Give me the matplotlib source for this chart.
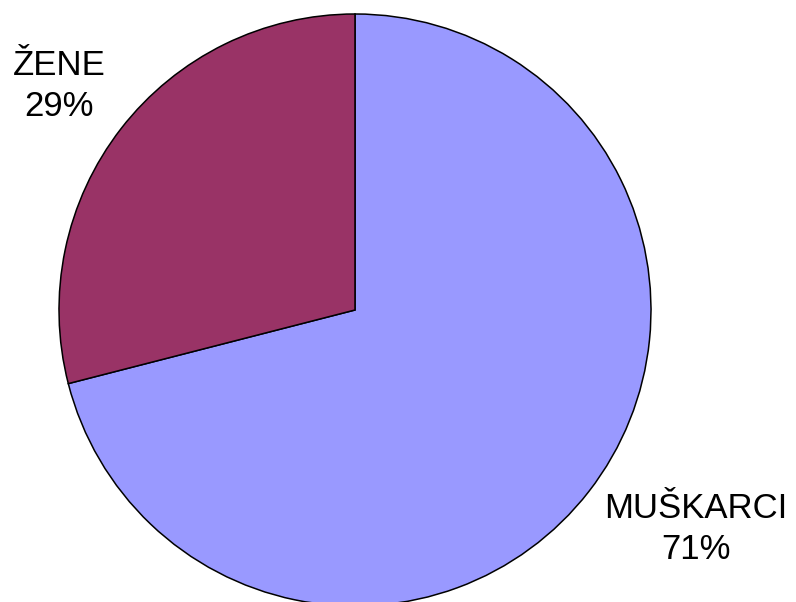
import matplotlib.pyplot as plt

labels = ['MUŠKARCI', 'ŽENE']
shares = [71, 29]
colors = ['#9999FF', '#993366']

plt.rcParams['font.family'] = ['Liberation Sans', 'DejaVu Sans']

fig = plt.figure(figsize=(7.96, 6.02), dpi=100)
ax = fig.add_axes([0, 0, 1, 1])

# figure pixel units, y up
ax.pie(shares, colors=colors, startangle=90, counterclock=False,
       center=(355, 292), radius=296,
       wedgeprops=dict(edgecolor='black', linewidth=1.1))
ax.set_xlim(0, 796)
ax.set_ylim(0, 602)
ax.set_aspect('equal')
ax.axis('off')

ax.text(59, 516, '%s\n%d%%' % (labels[1], shares[1]), ha='center', va='center',
        fontsize=25, linespacing=1.3)
ax.text(696, 73, '%s\n%d%%' % (labels[0], shares[0]), ha='center', va='center',
        fontsize=25, linespacing=1.3)

fig.savefig('out.png', dpi=100)
